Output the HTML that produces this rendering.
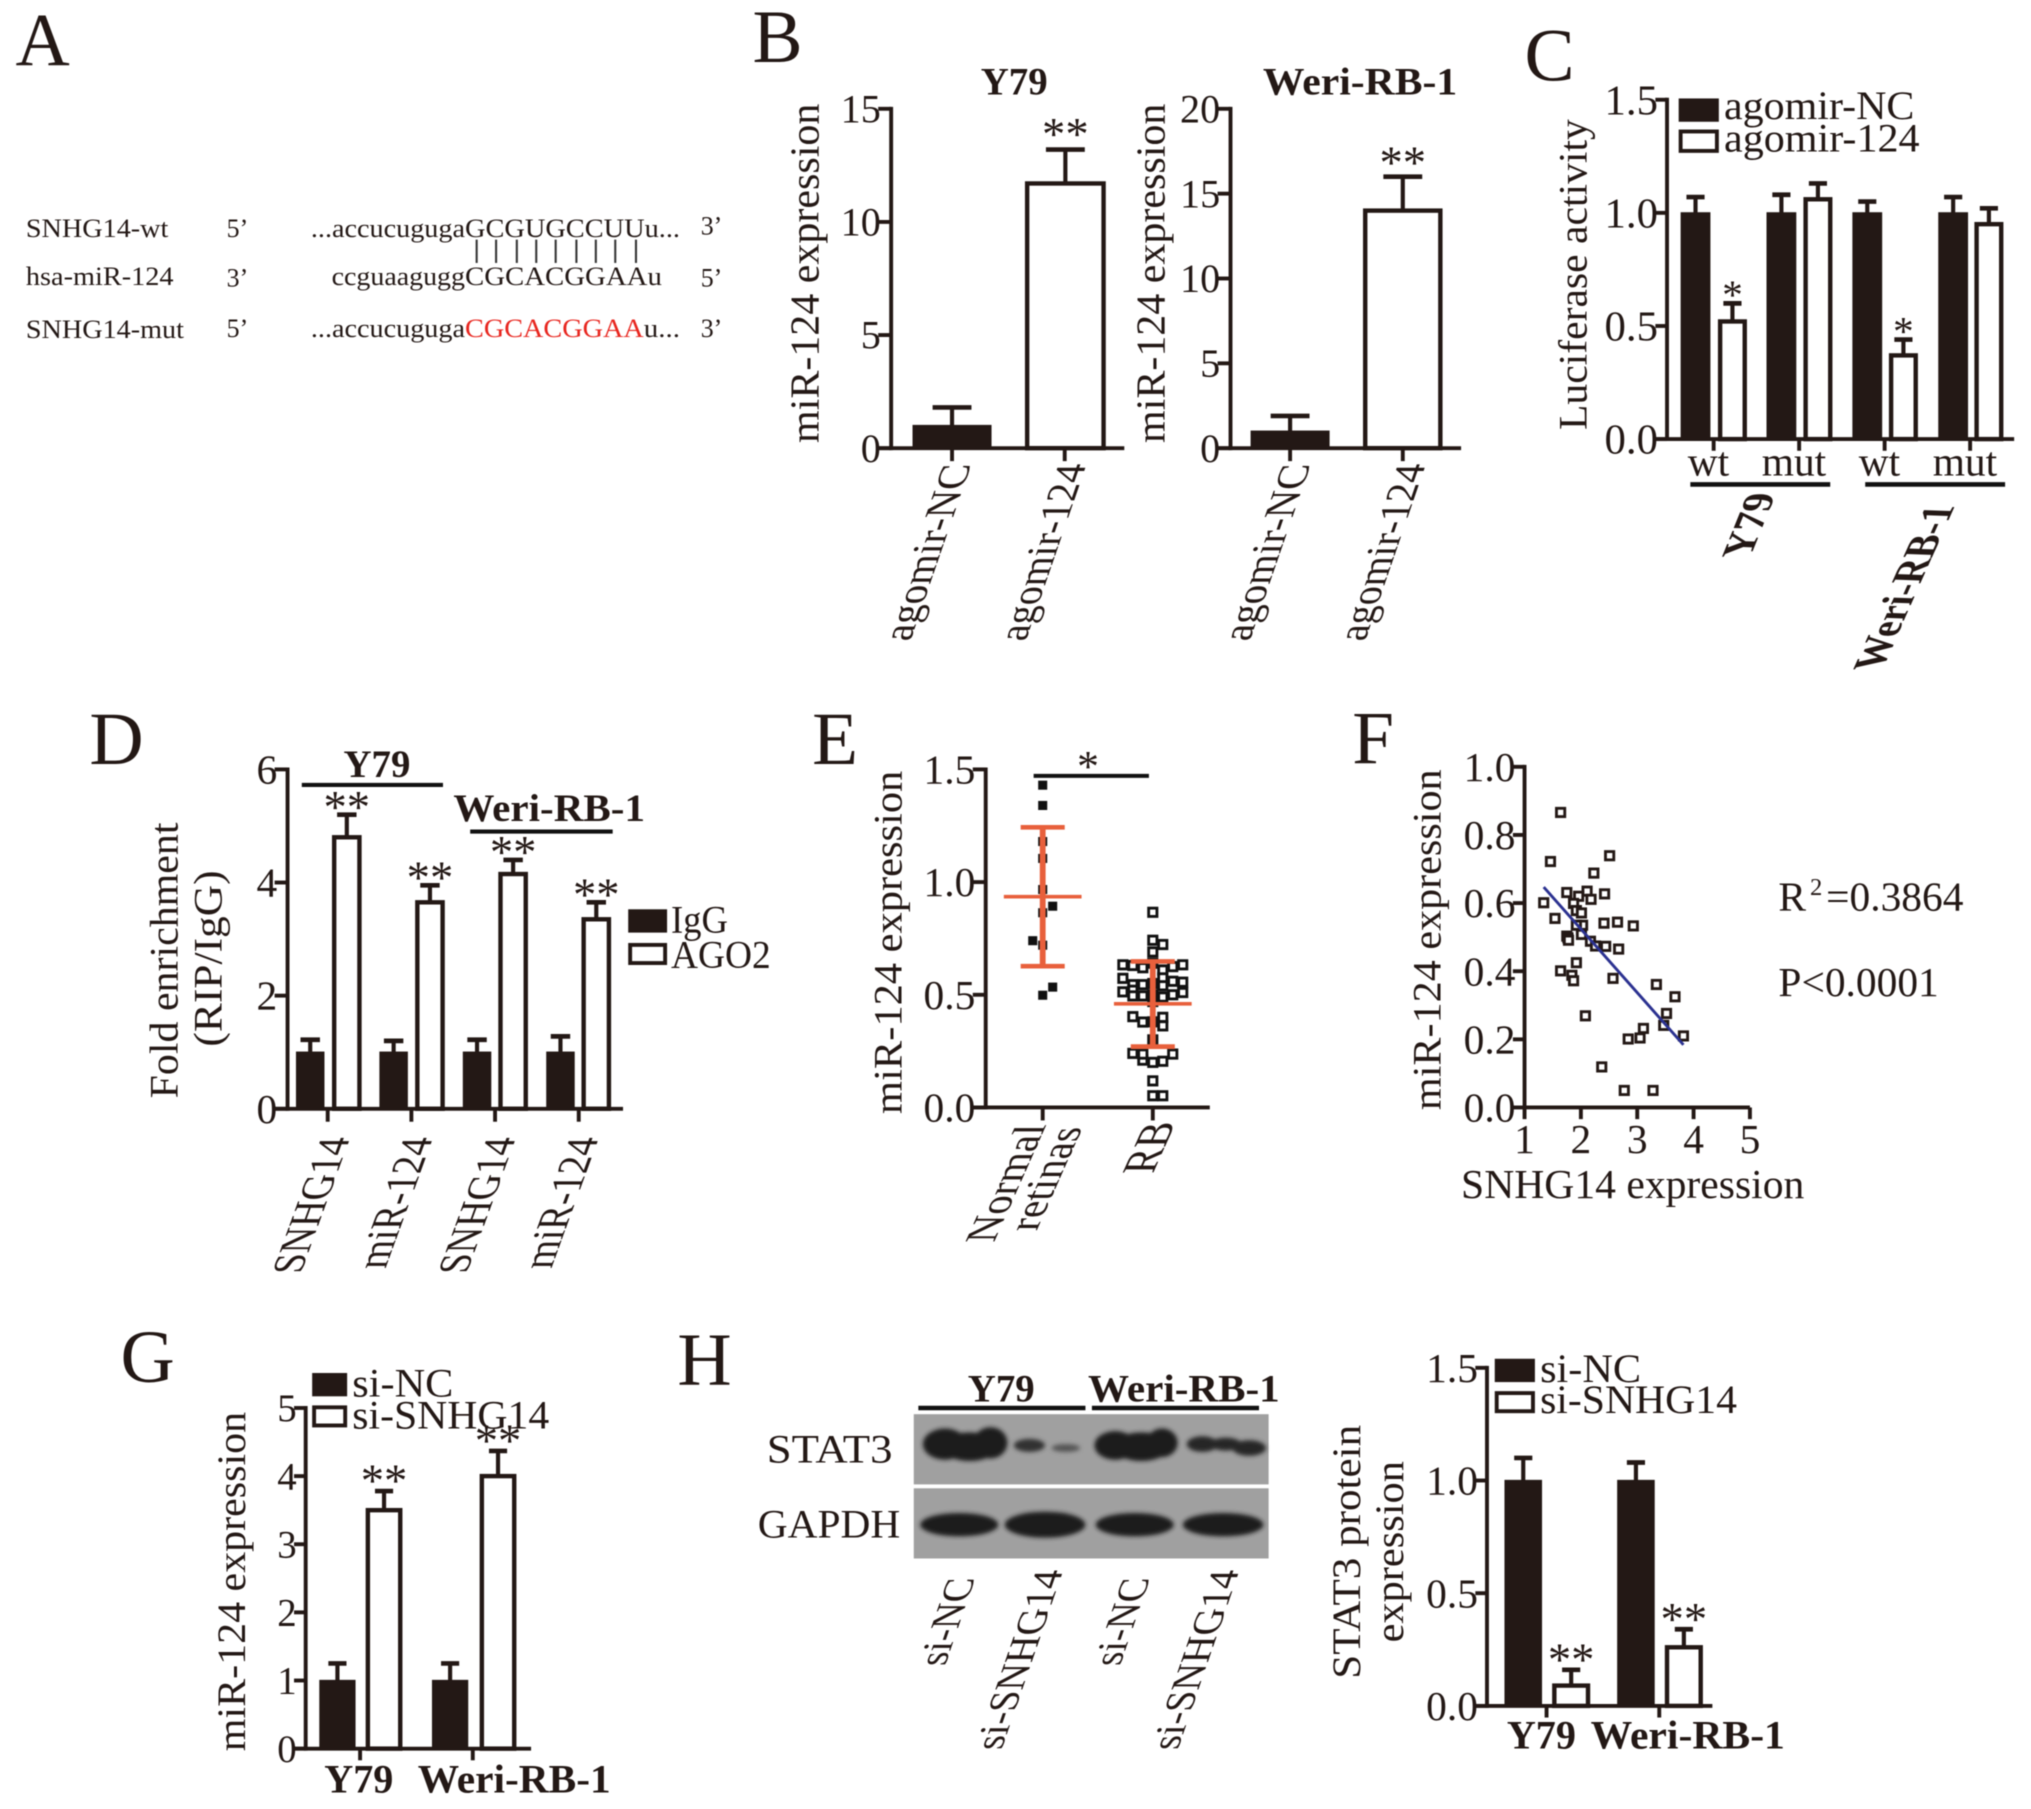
<!DOCTYPE html>
<html lang="en">
<head>
<meta charset="utf-8">
<title>SNHG14 and miR-124 multi-panel figure</title>
<style>
html,body{margin:0;padding:0;background:#fff;}
body{width:2031px;height:1809px;overflow:hidden;}
svg{display:block;filter:blur(0.6px);}
text{font-family:"Liberation Serif",serif;fill:#231815;}
</style>
</head>
<body>
<svg id="fig" xmlns="http://www.w3.org/2000/svg" width="2031" height="1809" viewBox="0 0 1568 1396.6">
<defs>
<filter id="soft" x="-20%" y="-40%" width="140%" height="180%"><feGaussianBlur stdDeviation="1.6"/></filter>
</defs>
<rect x="0" y="0" width="1568" height="1397" fill="#fff"/>

<g font-size="58">
<text x="12" y="50">A</text>
<text x="581" y="48">B</text>
<text x="1177" y="62">C</text>
<text x="69" y="590">D</text>
<text x="627" y="590">E</text>
<text x="1044" y="589">F</text>
<text x="93" y="1067">G</text>
<text x="523" y="1069">H</text>
</g>

<g font-size="20" style="fill:#333">
<text x="20" y="183" textLength="110" lengthAdjust="spacingAndGlyphs">SNHG14-wt</text>
<text x="175" y="183">5’</text>
<text x="240" y="183" textLength="119" lengthAdjust="spacingAndGlyphs">...accucuguga</text>
<text x="359" y="183" textLength="166" lengthAdjust="spacingAndGlyphs">GCGUGCCUUu...</text>
<text x="541" y="181">3’</text>
<text x="20" y="220" textLength="114" lengthAdjust="spacingAndGlyphs">hsa-miR-124</text>
<text x="175" y="221">3’</text>
<text x="256" y="220" textLength="103" lengthAdjust="spacingAndGlyphs">ccguaagugg</text>
<text x="359" y="220" textLength="152" lengthAdjust="spacingAndGlyphs">CGCACGGAAu</text>
<text x="541" y="221">5’</text>
<text x="20" y="261" textLength="122" lengthAdjust="spacingAndGlyphs">SNHG14-mut</text>
<text x="175" y="260">5’</text>
<text x="240" y="260" textLength="119" lengthAdjust="spacingAndGlyphs">...accucuguga</text>
<text x="359" y="260" textLength="138" lengthAdjust="spacingAndGlyphs" style="fill:#e8261f">CGCACGGAA</text>
<text x="497" y="260" textLength="28" lengthAdjust="spacingAndGlyphs">u...</text>
<text x="541" y="260">3’</text>
<g stroke="#333" stroke-width="1.6">
<line x1="368" x2="368" y1="185" y2="203"/>
<line x1="383" x2="383" y1="185" y2="203"/>
<line x1="399" x2="399" y1="185" y2="203"/>
<line x1="414" x2="414" y1="185" y2="203"/>
<line x1="429" x2="429" y1="185" y2="203"/>
<line x1="445" x2="445" y1="185" y2="203"/>
<line x1="460" x2="460" y1="185" y2="203"/>
<line x1="475" x2="475" y1="185" y2="203"/>
<line x1="491" x2="491" y1="185" y2="203"/>
</g>
</g>

<g>
<g transform="scale(1.0035)">
<rect x="703" y="1088" width="273" height="54" fill="#a0a0a0"/>
<rect x="703" y="1145" width="273" height="54" fill="#a0a0a0"/>
<g filter="url(#soft)" fill="#1a1a1a">
<ellipse cx="727" cy="1111" rx="17" ry="12"/>
<ellipse cx="746" cy="1113" rx="22" ry="11"/>
<ellipse cx="762" cy="1110" rx="13" ry="12"/>
<ellipse cx="792" cy="1112" rx="12" ry="5" fill="#333"/>
<ellipse cx="820" cy="1114" rx="11" ry="3" fill="#555"/>
<ellipse cx="858" cy="1112" rx="16" ry="11"/>
<ellipse cx="878" cy="1113" rx="22" ry="11"/>
<ellipse cx="894" cy="1110" rx="12" ry="11"/>
<ellipse cx="925" cy="1111" rx="12" ry="6" fill="#282828"/>
<ellipse cx="943" cy="1111" rx="12" ry="5" fill="#282828"/>
<ellipse cx="961" cy="1114" rx="13" ry="6" fill="#282828"/>
<ellipse cx="738" cy="1173" rx="30" ry="9"/>
<ellipse cx="804" cy="1173" rx="31" ry="10"/>
<ellipse cx="873" cy="1173" rx="30" ry="9"/>
<ellipse cx="941" cy="1173" rx="31" ry="9"/>
</g>
</g>
<line x1="709" x2="838" y1="1087" y2="1087" stroke="#111" stroke-width="3.5"/>
<line x1="843" x2="972" y1="1087" y2="1087" stroke="#111" stroke-width="3.5"/>
<text x="773" y="1082" font-size="30" font-weight="bold" text-anchor="middle">Y79</text>
<text x="914" y="1082" font-size="30" font-weight="bold" text-anchor="middle" textLength="148" lengthAdjust="spacingAndGlyphs">Weri-RB-1</text>
<text x="592" y="1129" font-size="31" textLength="97" lengthAdjust="spacingAndGlyphs">STAT3</text>
<text x="585" y="1187" font-size="31" textLength="110" lengthAdjust="spacingAndGlyphs">GAPDH</text>
</g>

<g font-size="32">
<text x="1373" y="703"><tspan>R</tspan><tspan font-size="19" dy="-12" dx="3">2</tspan><tspan dy="12" dx="3">=0.3864</tspan></text>
<text x="1373" y="769">P&lt;0.0001</text>
</g>

<g id="charts"></g>
</svg>

<script>
/* ---------- Panel B: Y79 ---------- */
const b1YTickLabels = ['0', '5', '10', '15'];
const b1Categories = ['agomir-NC', 'agomir-124'];
const b1NcValues = [1];
const b1NcCaps = [1.8];
const b1AgoValues = [11.7];
const b1AgoCaps = [13.2];
const b1Stars = ['**'];

/* ---------- Panel B: Weri-RB-1 ---------- */
const b2YTickLabels = ['0', '5', '10', '15', '20'];
const b2Categories = ['agomir-NC', 'agomir-124'];
const b2NcValues = [1];
const b2NcCaps = [1.9];
const b2AgoValues = [14];
const b2AgoCaps = [16];
const b2Stars = ['**'];

/* ---------- Panel C ---------- */
const cYTickLabels = ['0.0', '0.5', '1.0', '1.5'];
const cCategories = ['wt', 'mut', 'wt', 'mut'];
const cNcValues = [1, 1, 1, 1];
const cNcCaps = [1.07, 1.08, 1.05, 1.07];
const cAgoValues = [0.52, 1.06, 0.37, 0.95];
const cAgoCaps = [0.6, 1.13, 0.44, 1.02];
const cStars = ['*', '', '*', ''];

/* ---------- Panel D ---------- */
const dYTickLabels = ['0', '2', '4', '6'];
const dCategories = ['SNHG14', 'miR-124', 'SNHG14', 'miR-124'];
const dIggValues = [1, 1, 1, 1];
const dIggCaps = [1.22, 1.2, 1.22, 1.28];
const dAgoValues = [4.8, 3.65, 4.15, 3.35];
const dAgoCaps = [5.2, 3.95, 4.4, 3.65];
const dStars = ['**', '**', '**', '**'];

/* ---------- Panel E ---------- */
const eYTickLabels = ['0.0', '0.5', '1.0', '1.5'];
const eNormalValues = [1.43, 1.34, 1.18, 1.105, 0.967, 0.893, 0.864, 0.74, 0.72, 0.534, 0.498];
const eNormalJitter = [0, 0, 0, 0, 0, 1, 0, -1, 0, 1, 0];
const eNormalStats = [0.627, 0.935, 1.243];
const eRbValues = [0.866, 0.742, 0.723, 0.69, 0.633, 0.63, 0.62, 0.61, 0.625, 0.633, 0.64, 0.573, 0.575, 0.545, 0.545, 0.55, 0.54, 0.56, 0.556, 0.513, 0.52, 0.495, 0.495, 0.5, 0.49, 0.5, 0.51, 0.47, 0.403, 0.4, 0.379, 0.38, 0.362, 0.3, 0.24, 0.237, 0.21, 0.2, 0.205, 0.237, 0.118, 0.052, 0.052];
const eRbJitter = [0, 0, 1, 0, -3, -2, -1, 1, 2, 3, 0, -3, 1, -2, -1, 0, 1, 2, 3, -3, -2, -2, -1, 0, 1, 2, 3, 0, -2, 1, -1, 0, 1, 0, -2, 2, -1, 0, 1, -1, 0, 0, 1];
const eRbStats = [0.27, 0.46, 0.648];

/* ---------- Panel F ---------- */
const fYTickLabels = ['0.0', '0.2', '0.4', '0.6', '0.8', '1.0'];
const fXTickLabels = ['1', '2', '3', '4', '5'];
const fXValues = [1.64, 1.46, 2.51, 2.23, 1.75, 2.11, 1.96, 2.42, 2.18, 1.34, 1.87, 1.92, 2.01, 1.54, 2.41, 2.65, 2.93, 2.03, 1.92, 2.01, 1.75, 1.77, 1.78, 2.17, 2.26, 2.44, 2.67, 1.92, 1.64, 1.84, 1.87, 2.57, 3.34, 3.67, 3.52, 2.08, 3.47, 3.11, 3.05, 2.84, 3.82, 2.37, 2.77, 3.28];
const fYValues = [0.866, 0.722, 0.739, 0.688, 0.631, 0.635, 0.62, 0.627, 0.611, 0.601, 0.599, 0.578, 0.571, 0.555, 0.541, 0.544, 0.533, 0.535, 0.535, 0.508, 0.503, 0.498, 0.491, 0.488, 0.474, 0.473, 0.465, 0.425, 0.401, 0.388, 0.372, 0.379, 0.361, 0.325, 0.276, 0.269, 0.241, 0.232, 0.204, 0.201, 0.21, 0.119, 0.05, 0.05];
const fFitX = [1.34, 3.82];
const fFitY = [0.647, 0.184];

/* ---------- Panel G ---------- */
const gYTickLabels = ['0', '1', '2', '3', '4', '5'];
const gCategories = ['Y79', 'Weri-RB-1'];
const gNcValues = [1, 1];
const gNcCaps = [1.25, 1.25];
const gSiValues = [3.5, 4];
const gSiCaps = [3.78, 4.37];
const gStars = ['**', '**'];

/* ---------- Panel H quantification ---------- */
const hYTickLabels = ['0.0', '0.5', '1.0', '1.5'];
const hCategories = ['Y79', 'Weri-RB-1'];
const hNcValues = [1, 1];
const hNcCaps = [1.1, 1.08];
const hSiValues = [0.09, 0.26];
const hSiCaps = [0.16, 0.34];
const hStars = ['**', '**'];
const hLaneLabels = ['si-NC', 'si-SNHG14', 'si-NC', 'si-SNHG14'];

const NS = 'http://www.w3.org/2000/svg';
const INK = '#231815';
const ORANGE = '#e8603c';
const root = document.getElementById('charts');

function mk(tag, attrs, name, parent) {
  const el = document.createElementNS(NS, tag);
  Object.keys(attrs).forEach(function (k) { el.setAttribute(k, attrs[k]); });
  
  
  parent.appendChild(el);
  return el;
}
function group(name, parent) {
  return mk('g', {}, name, parent || root);
}
function line(x1, y1, x2, y2, w, color, name, parent) {
  return mk('line', { x1: x1, y1: y1, x2: x2, y2: y2, stroke: color || INK, 'stroke-width': w }, name, parent);
}
function label(str, x, y, opts, name, parent) {
  const a = { x: x, y: y, 'font-size': opts.fs || 30 };
  if (opts.anchor) a['text-anchor'] = opts.anchor;
  if (opts.weight) a['font-weight'] = opts.weight;
  if (opts.len) { a.textLength = opts.len; a.lengthAdjust = 'spacingAndGlyphs'; }
  if (opts.rot !== undefined) {
    a.transform = 'translate(' + x + ' ' + y + ') rotate(' + opts.rot + ') skewX(' + (opts.skew || 0) + ') translate(' + (-x) + ' ' + (-y) + ')';
  }
  const el = mk('text', a, name, parent);
  el.textContent = str;
  return el;
}
function linearScale(d0, d1, r0, r1) {
  return function (v) { return r0 + (v - d0) / (d1 - d0) * (r1 - r0); };
}
function yAxis(g, x, y0, yTop, labels, fs, tickLen) {
  const max = parseFloat(labels[labels.length - 1]);
  const scale = linearScale(0, max, y0, yTop);
  line(x, yTop - 1.5, x, y0 + 1.5, 3, INK, 'y-axis-line', g);
  labels.forEach(function (t) {
    const v = parseFloat(t);
    line(x - tickLen, scale(v), x, scale(v), 3, INK, 'y-tick', g);
    label(t, x - tickLen + 2, scale(v) + fs * 0.34, { fs: fs, anchor: 'end' }, 'y-tick-label', g);
  });
  return scale;
}
function stars(str, cx, cy, fs, g) {
  if (!str) return;
  label(str, cx, cy + fs * 0.47, { fs: fs, anchor: 'middle' }, 'significance-stars', g);
}
function bars(g, cfg, scale, y0) {
  cfg.values.forEach(function (v, i) {
    const left = cfg.x0 + i * cfg.step;
    const cx = left + cfg.w / 2;
    const top = scale(v);
    const capY = scale(cfg.caps[i]);
    line(cx, capY, cx, top, 3.2, INK, cfg.name + '-error-stem', g);
    line(cx - cfg.capW / 2, capY, cx + cfg.capW / 2, capY, 3.6, INK, cfg.name + '-error-cap', g);
    if (cfg.solid) {
      mk('rect', { x: left, y: top, width: cfg.w, height: y0 - top, fill: INK, stroke: INK, 'stroke-width': 1 }, cfg.name + '-bar', g);
    } else {
      mk('rect', { x: left, y: top, width: cfg.w, height: y0 - top, fill: '#fff', stroke: INK, 'stroke-width': 3.4 }, cfg.name + '-bar', g);
    }
    if (cfg.stars) stars(cfg.stars[i], cx, capY - cfg.starGap, cfg.starFs, g);
  });
}
function xAxis(g, x1, x2, y0, tickX0, tickStep, n, tickLen) {
  line(x1, y0, x2, y0, 3, INK, 'x-axis-line', g);
  for (let i = 0; i < n; i++) {
    line(tickX0 + i * tickStep, y0, tickX0 + i * tickStep, y0 + tickLen, 3, INK, 'x-tick', g);
  }
}
function legend(g, x, w, y1, h1, y2, h2, text1, text2, fs, tx, b1, b2, len1, len2) {
  mk('rect', { x: x, y: y1, width: w, height: h1, fill: INK }, 'legend-swatch-control', g);
  mk('rect', { x: x + 1.5, y: y2 + 1.5, width: w - 3, height: h2 - 3, fill: '#fff', stroke: INK, 'stroke-width': 3 }, 'legend-swatch-treatment', g);
  label(text1, tx, b1, { fs: fs, len: len1 }, 'legend-label-control', g);
  label(text2, tx, b2, { fs: fs, len: len2 }, 'legend-label-treatment', g);
}

/* Panel B Y79 */
(function () {
  const g = group('panel-b-y79-chart');
  const y0 = 346;
  const scale = yAxis(g, 688, y0, 84, b1YTickLabels, 31, 10);
  bars(g, { name: 'agomir-nc', values: b1NcValues, caps: b1NcCaps, x0: 705, step: 88, w: 60, capW: 30, solid: true }, scale, y0);
  bars(g, { name: 'agomir-124', values: b1AgoValues, caps: b1AgoCaps, x0: 793, step: 88, w: 59, capW: 30, stars: b1Stars, starGap: 17, starFs: 36 }, scale, y0);
  xAxis(g, 678, 868, y0, 735, 87, 2, 10);
  b1Categories.forEach(function (c, i) {
    label(c, 750 + i * 89, 358, { fs: 31, anchor: 'end', rot: -71, skew: 19, len: 145 }, 'x-category-label', g);
  });
  label('Y79', 783, 73, { fs: 30, weight: 'bold', anchor: 'middle' }, 'chart-title-y79', g);
  label('miR-124 expression', 632, 342, { fs: 32, rot: -90, len: 262 }, 'y-axis-title', g);
})();

/* Panel B Weri */
(function () {
  const g = group('panel-b-weri-chart');
  const y0 = 346;
  const scale = yAxis(g, 950, y0, 84, b2YTickLabels, 31, 10);
  bars(g, { name: 'agomir-nc', values: b2NcValues, caps: b2NcCaps, x0: 966, step: 88, w: 60, capW: 30, solid: true }, scale, y0);
  bars(g, { name: 'agomir-124', values: b2AgoValues, caps: b2AgoCaps, x0: 1054, step: 88, w: 58, capW: 30, stars: b2Stars, starGap: 16, starFs: 36 }, scale, y0);
  xAxis(g, 940, 1128, y0, 996, 87, 2, 10);
  b2Categories.forEach(function (c, i) {
    label(c, 1012 + i * 89, 358, { fs: 31, anchor: 'end', rot: -71, skew: 19, len: 145 }, 'x-category-label', g);
  });
  label('Weri-RB-1', 1050, 73, { fs: 30, weight: 'bold', anchor: 'middle', len: 150 }, 'chart-title-weri', g);
  label('miR-124 expression', 899, 342, { fs: 32, rot: -90, len: 262 }, 'y-axis-title', g);
})();

/* Panel C */
(function () {
  const g = group('panel-c-chart');
  const y0 = 339;
  const scale = yAxis(g, 1287, y0, 77, cYTickLabels, 33, 9);
  bars(g, { name: 'agomir-nc', values: cNcValues, caps: cNcCaps, x0: 1298, step: 66.3, w: 22, capW: 14, solid: true }, scale, y0);
  bars(g, { name: 'agomir-124', values: cAgoValues, caps: cAgoCaps, x0: 1328, step: 66, w: 19, capW: 14, stars: cStars, starGap: 11, starFs: 32 }, scale, y0);
  xAxis(g, 1277, 1555, y0, 1323, 66, 4, 9);
  cCategories.forEach(function (c, i) {
    label(c, 1319 + i * 66, 367, { fs: 32, anchor: 'middle' }, 'x-category-label', g);
  });
  line(1305, 374, 1413, 374, 3.5, '#111', 'y79-group-bar', g);
  line(1440, 374, 1548, 374, 3.5, '#111', 'weri-group-bar', g);
  label('Y79', 1361, 406, { fs: 31, weight: 'bold', anchor: 'middle', rot: -68, skew: 20, len: 54 }, 'y79-group-label', g);
  label('Weri-RB-1', 1481, 454, { fs: 31, weight: 'bold', anchor: 'middle', rot: -66, skew: 22, len: 140 }, 'weri-group-label', g);
  label('Luciferase activity', 1225, 332, { fs: 31, rot: -90, len: 240 }, 'y-axis-title', g);
  legend(g, 1296, 31, 76, 18, 100, 18, 'agomir-NC', 'agomir-124', 31, 1331, 92, 117, 147, 151);
})();

/* Panel D */
(function () {
  const g = group('panel-d-chart');
  const y0 = 856;
  const scale = yAxis(g, 222, y0, 594, dYTickLabels, 32, 10);
  bars(g, { name: 'igg', values: dIggValues, caps: dIggCaps, x0: 229, step: 64.4, w: 21, capW: 15, solid: true }, scale, y0);
  bars(g, { name: 'ago2', values: dAgoValues, caps: dAgoCaps, x0: 258, step: 64.2, w: 19.5, capW: 15, stars: dStars, starGap: 11, starFs: 36 }, scale, y0);
  xAxis(g, 212, 481, y0, 253, 64.6, 4, 10);
  dCategories.forEach(function (c, i) {
    label(c, 270.5 + i * 64, 878, { fs: 32, anchor: 'end', rot: -70, skew: 20, len: i % 2 ? 108 : 112 }, 'x-category-label', g);
  });
  line(233, 606, 342, 606, 3.2, '#111', 'y79-group-bar', g);
  line(363, 642, 473, 642, 3.2, '#111', 'weri-group-bar', g);
  label('Y79', 291, 600, { fs: 30, weight: 'bold', anchor: 'middle' }, 'y79-group-label', g);
  label('Weri-RB-1', 424, 634, { fs: 30, weight: 'bold', anchor: 'middle', len: 148 }, 'weri-group-label', g);
  label('Fold enrichment', 137, 848, { fs: 31, rot: -90, len: 213 }, 'y-axis-title-line-1', g);
  label('(RIP/IgG)', 171, 808, { fs: 31, rot: -90, len: 136 }, 'y-axis-title-line-2', g);
  legend(g, 485, 30, 702, 18, 728, 17, 'IgG', 'AGO2', 30, 518, 720, 747, 44, 77);
})();

/* Panel E */
(function () {
  const g = group('panel-e-chart');
  const y0 = 855;
  const scale = yAxis(g, 761, y0, 594, eYTickLabels, 32, 10);
  xAxis(g, 751, 934, y0, 805, 85, 2, 10);
  function dots(values, jitter, cx, solid, name) {
    values.forEach(function (v, i) {
      const x = cx + jitter[i] * 7.7;
      const y = scale(v);
      if (solid) {
        mk('rect', { x: x - 3.5, y: y - 3.5, width: 7, height: 7, fill: '#111' }, name, g);
      } else {
        mk('rect', { x: x - 3.2, y: y - 3.2, width: 6.4, height: 6.4, fill: '#fff', stroke: '#111', 'stroke-width': 2.2 }, name, g);
      }
    });
  }
  function spread(stats, cx, name) {
    line(cx, scale(stats[0]), cx, scale(stats[2]), 4.5, ORANGE, name + '-stem', g);
    line(cx - 17, scale(stats[0]), cx + 17, scale(stats[0]), 3.6, ORANGE, name + '-lower-cap', g);
    line(cx - 17, scale(stats[2]), cx + 17, scale(stats[2]), 3.6, ORANGE, name + '-upper-cap', g);
    line(cx - 30, scale(stats[1]), cx + 30, scale(stats[1]), 2.8, ORANGE, name + '-mean', g);
  }
  dots(eNormalValues, eNormalJitter, 805, true, 'normal-retina-point');
  dots(eRbValues, eRbJitter, 890, false, 'rb-point');
  spread(eNormalStats, 805, 'normal-retina');
  spread(eRbStats, 890, 'rb');
  line(798, 599, 887, 599, 3, '#111', 'significance-bar', g);
  label('*', 840, 603, { fs: 34, anchor: 'middle' }, 'significance-star', g);
  label('Normal', 808, 868, { fs: 31, anchor: 'end', rot: -66, skew: 24, len: 100 }, 'x-category-label-normal', g);
  label('retinas', 836, 870, { fs: 31, anchor: 'end', rot: -66, skew: 24, len: 88 }, 'x-category-label-retinas', g);
  label('RB', 908, 866, { fs: 33, anchor: 'end', rot: -66, skew: 24, len: 44 }, 'x-category-label-rb', g);
  label('miR-124  expression', 696, 860, { fs: 31, rot: -90, len: 265 }, 'y-axis-title', g);
})();

/* Panel F */
(function () {
  const g = group('panel-f-chart');
  const y0 = 855;
  const scale = yAxis(g, 1177, y0, 592, fYTickLabels, 32, 9);
  const sx = linearScale(1, 5, 1177, 1351);
  line(1177, y0, 1351, y0, 3, INK, 'x-axis-line', g);
  fXTickLabels.forEach(function (t) {
    const x = sx(parseFloat(t));
    line(x, y0, x, y0 + 9, 3, INK, 'x-tick', g);
    label(t, x, 890, { fs: 32, anchor: 'middle' }, 'x-tick-label', g);
  });
  fXValues.forEach(function (xv, i) {
    mk('rect', { x: sx(xv) - 3.2, y: scale(fYValues[i]) - 3.2, width: 6.4, height: 6.4, fill: '#fff', stroke: '#231815', 'stroke-width': 2.2 }, 'scatter-point', g);
  });
  line(sx(fFitX[0]), scale(fFitY[0]), sx(fFitX[1]), scale(fFitY[1]), 2.2, '#2b3190', 'regression-line', g);
  label('SNHG14 expression', 1128, 925, { fs: 32, len: 265 }, 'x-axis-title', g);
  label('miR-124  expression', 1112, 857, { fs: 31, rot: -90, len: 263 }, 'y-axis-title', g);
})();

/* Panel G */
(function () {
  const g = group('panel-g-chart');
  const y0 = 1350;
  const scale = yAxis(g, 236, y0, 1087, gYTickLabels, 30, 9);
  bars(g, { name: 'si-nc', values: gNcValues, caps: gNcCaps, x0: 247, step: 87, w: 27, capW: 14, solid: true }, scale, y0);
  bars(g, { name: 'si-snhg14', values: gSiValues, caps: gSiCaps, x0: 284, step: 88, w: 25, capW: 14, stars: gStars, starGap: 13, starFs: 36 }, scale, y0);
  xAxis(g, 226, 410, y0, 278, 87, 2, 9);
  label(gCategories[0], 277, 1384, { fs: 31, weight: 'bold', anchor: 'middle' }, 'x-category-label', g);
  label(gCategories[1], 397, 1384, { fs: 31, weight: 'bold', anchor: 'middle', len: 149 }, 'x-category-label', g);
  label('miR-124 expression', 189, 1352, { fs: 31, rot: -90, len: 262 }, 'y-axis-title', g);
  legend(g, 241, 27, 1060, 18, 1085, 17, 'si-NC', 'si-SNHG14', 31, 272, 1078, 1103, 78, 152);
})();

/* Panel H quantification */
(function () {
  const g = group('panel-h-chart');
  const y0 = 1317;
  const scale = yAxis(g, 1148, y0, 1056, hYTickLabels, 32, 9);
  bars(g, { name: 'si-nc', values: hNcValues, caps: hNcCaps, x0: 1162, step: 87, w: 28, capW: 14, solid: true }, scale, y0);
  bars(g, { name: 'si-snhg14', values: hSiValues, caps: hSiCaps, x0: 1200, step: 87, w: 26, capW: 14, stars: hStars, starGap: 13, starFs: 36 }, scale, y0);
  xAxis(g, 1138, 1322, y0, 1194, 87, 2, 9);
  label(hCategories[0], 1190, 1350, { fs: 31, weight: 'bold', anchor: 'middle' }, 'x-category-label', g);
  label(hCategories[1], 1303, 1350, { fs: 31, weight: 'bold', anchor: 'middle', len: 150 }, 'x-category-label', g);
  label('STAT3 protein', 1050, 1296, { fs: 31, rot: -90, len: 196 }, 'y-axis-title-line-1', g);
  label('expression', 1083, 1268, { fs: 31, rot: -90, len: 140 }, 'y-axis-title-line-2', g);
  legend(g, 1154, 31, 1049, 18, 1074, 17, 'si-NC', 'si-SNHG14', 31, 1189, 1067, 1091, 78, 152);
  const lanes = group('blot-lane-labels');
  [[753, 1218, 72], [821, 1212, 147], [888, 1218, 72], [957, 1212, 147]].forEach(function (p, i) {
    label(hLaneLabels[i], p[0], p[1], { fs: 30, anchor: 'end', rot: -71, skew: 19, len: p[2] }, 'blot-lane-label', lanes);
  });
})();
</script>
</body>
</html>
